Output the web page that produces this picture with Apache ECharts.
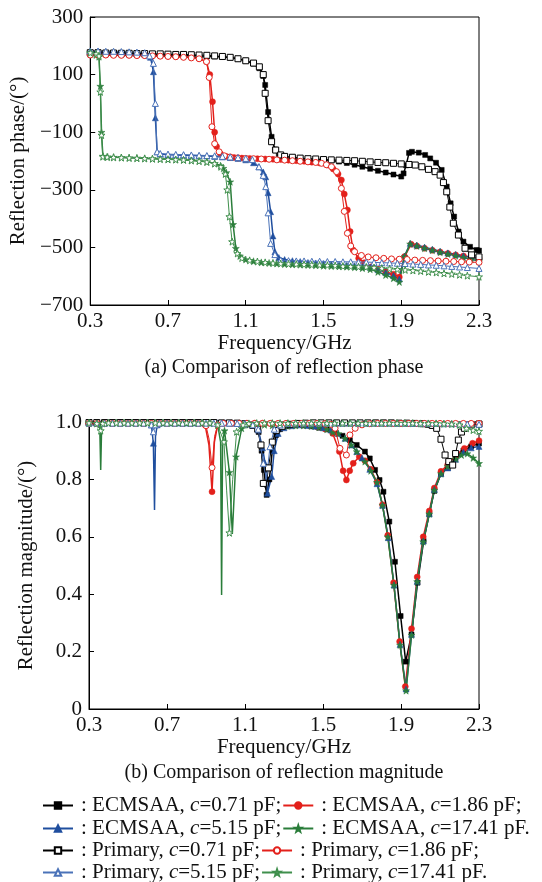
<!DOCTYPE html>
<html><head><meta charset="utf-8">
<script src="https://cdn.jsdelivr.net/npm/echarts@6/dist/echarts.min.js"></script>
<style>html,body{margin:0;padding:0;background:#fff}#c{width:542px;height:882px}</style>
</head><body><div id="c"></div>
<script>
// ---------- DATA ----------
const xTicks = [0.3, 0.7, 1.1, 1.5, 1.9, 2.3];
const phaseTicks = [-700, -500, -300, -100, 100, 300];
const magTicks = [0, 0.2, 0.4, 0.6, 0.8, 1.0];
const seriesNames = ['ECMSAA, c=0.71 pF','ECMSAA, c=1.86 pF','ECMSAA, c=5.15 pF','ECMSAA, c=17.41 pF',
                     'Primary, c=0.71 pF','Primary, c=1.86 pF','Primary, c=5.15 pF','Primary, c=17.41 pF'];

// Reflection phase [GHz, deg]
const phaseE071 = [[0.30,172],[0.34,172],[0.38,171],[0.42,171],[0.46,170],[0.50,170],[0.54,170],[0.58,169],[0.62,169],[0.66,168],[0.70,168],[0.74,167],[0.78,166],[0.82,166],[0.86,165],[0.90,164],[0.94,163],[0.98,161],[1.02,159],[1.06,155],[1.10,148],[1.14,138],[1.17,122],[1.19,95],[1.20,64],[1.215,-30],[1.233,-116],[1.25,-160],[1.27,-178],[1.30,-186],[1.34,-189],[1.38,-191],[1.42,-194],[1.46,-195],[1.50,-196],[1.54,-198],[1.58,-202],[1.62,-207],[1.66,-213],[1.70,-220],[1.74,-227],[1.78,-234],[1.82,-240],[1.86,-247],[1.90,-254],[1.912,-243],[1.925,-215],[1.94,-172],[1.955,-168],[1.99,-171],[2.023,-179],[2.049,-191],[2.079,-206],[2.108,-231],[2.134,-289],[2.154,-347],[2.172,-393],[2.195,-445],[2.22,-480],[2.254,-498],[2.288,-509],[2.30,-511]];
const phaseE186 = [[0.30,170],[0.34,170],[0.38,169],[0.42,169],[0.46,168],[0.50,168],[0.54,167],[0.58,167],[0.62,166],[0.66,165],[0.70,164],[0.74,163],[0.78,162],[0.82,160],[0.86,156],[0.898,145],[0.915,100],[0.929,6],[0.94,-100],[0.95,-150],[0.97,-175],[1.00,-184],[1.04,-188],[1.08,-190],[1.12,-191],[1.16,-192],[1.20,-193],[1.24,-194],[1.28,-195],[1.32,-197],[1.36,-199],[1.40,-201],[1.44,-204],[1.48,-207],[1.52,-214],[1.55,-228],[1.575,-245],[1.592,-266],[1.607,-315],[1.623,-370],[1.637,-445],[1.652,-509],[1.681,-538],[1.71,-553],[1.746,-567],[1.78,-575],[1.82,-584],[1.86,-593],[1.89,-603],[1.917,-532],[1.951,-489],[1.98,-495],[2.02,-503],[2.06,-510],[2.10,-516],[2.14,-521],[2.18,-526],[2.22,-530],[2.26,-534],[2.30,-538]];
const phaseE515 = [[0.30,180],[0.34,180],[0.38,179],[0.42,178],[0.46,178],[0.50,177],[0.54,176],[0.58,172],[0.61,160],[0.625,110],[0.635,-50],[0.644,-168],[0.66,-176],[0.70,-178],[0.74,-179],[0.78,-180],[0.82,-181],[0.86,-182],[0.90,-183],[0.94,-184],[0.98,-186],[1.02,-188],[1.06,-191],[1.10,-196],[1.14,-206],[1.168,-220],[1.19,-238],[1.203,-255],[1.215,-310],[1.228,-376],[1.24,-460],[1.25,-515],[1.27,-535],[1.30,-542],[1.34,-546],[1.38,-549],[1.42,-552],[1.46,-554],[1.50,-556],[1.54,-558],[1.58,-560],[1.62,-562],[1.66,-564],[1.70,-566],[1.74,-569],[1.78,-577],[1.82,-587],[1.86,-598],[1.89,-610],[1.917,-530],[1.946,-486],[1.98,-492],[2.02,-499],[2.06,-506],[2.10,-513],[2.14,-519],[2.18,-524],[2.22,-529],[2.26,-534],[2.30,-538]];
const phaseE1741 = [[0.30,172],[0.33,168],[0.345,162],[0.352,60],[0.358,-100],[0.365,-183],[0.39,-186],[0.42,-187],[0.46,-188],[0.50,-189],[0.54,-190],[0.58,-191],[0.62,-192],[0.66,-193],[0.70,-194],[0.74,-195],[0.78,-196],[0.82,-198],[0.86,-200],[0.90,-203],[0.94,-208],[0.97,-216],[0.985,-225],[1.00,-240],[1.02,-272],[1.035,-420],[1.049,-503],[1.07,-530],[1.10,-542],[1.14,-548],[1.18,-552],[1.22,-554],[1.26,-556],[1.30,-558],[1.34,-559],[1.38,-560],[1.42,-561],[1.46,-562],[1.50,-564],[1.54,-565],[1.58,-566],[1.62,-567],[1.66,-569],[1.70,-572],[1.74,-576],[1.78,-585],[1.82,-596],[1.86,-607],[1.89,-620],[1.917,-532],[1.946,-488],[1.98,-495],[2.02,-503],[2.06,-510],[2.10,-517],[2.14,-523],[2.18,-529],[2.22,-535],[2.26,-541],[2.30,-547]];
const phaseP071 = [[0.30,176],[0.34,176],[0.38,175],[0.42,175],[0.46,174],[0.50,174],[0.54,173],[0.58,173],[0.62,172],[0.66,172],[0.70,171],[0.74,170],[0.78,170],[0.82,169],[0.86,168],[0.90,167],[0.94,165],[0.98,163],[1.02,160],[1.06,155],[1.10,148],[1.14,140],[1.17,127],[1.19,100],[1.20,35],[1.215,-60],[1.233,-133],[1.254,-162],[1.28,-179],[1.30,-184],[1.34,-187],[1.38,-190],[1.42,-192],[1.46,-193],[1.50,-195],[1.54,-196],[1.58,-197],[1.62,-198],[1.66,-199],[1.70,-201],[1.74,-203],[1.78,-205],[1.82,-206],[1.86,-208],[1.90,-210],[1.94,-212],[1.972,-214],[2.006,-220],[2.04,-229],[2.074,-237],[2.10,-249],[2.117,-275],[2.134,-307],[2.15,-360],[2.168,-416],[2.194,-457],[2.228,-503],[2.262,-526],[2.30,-533]];
const phaseP186 = [[0.30,168],[0.34,168],[0.38,168],[0.42,167],[0.46,167],[0.50,167],[0.54,166],[0.58,166],[0.62,165],[0.66,164],[0.70,163],[0.74,162],[0.78,160],[0.82,158],[0.86,155],[0.898,145],[0.912,90],[0.926,-81],[0.94,-140],[0.963,-168],[0.99,-182],[1.02,-186],[1.06,-189],[1.10,-191],[1.14,-192],[1.18,-193],[1.22,-194],[1.26,-196],[1.30,-197],[1.34,-199],[1.38,-201],[1.42,-203],[1.46,-205],[1.49,-208],[1.515,-213],[1.541,-220],[1.567,-237],[1.592,-295],[1.607,-375],[1.623,-451],[1.64,-495],[1.66,-515],[1.695,-528],[1.73,-533],[1.77,-536],[1.81,-538],[1.85,-540],[1.89,-541],[1.93,-542],[1.97,-544],[2.01,-545],[2.05,-546],[2.09,-547],[2.13,-548],[2.17,-549],[2.21,-550],[2.25,-551],[2.30,-552]];
const phaseP515 = [[0.30,182],[0.34,182],[0.38,181],[0.42,181],[0.46,180],[0.50,179],[0.54,178],[0.58,176],[0.605,165],[0.625,139],[0.635,0],[0.644,-168],[0.66,-174],[0.70,-176],[0.74,-177],[0.78,-178],[0.82,-179],[0.86,-180],[0.90,-181],[0.94,-182],[0.98,-184],[1.02,-186],[1.06,-188],[1.10,-191],[1.134,-195],[1.168,-220],[1.19,-250],[1.203,-289],[1.215,-380],[1.228,-486],[1.25,-525],[1.28,-544],[1.32,-546],[1.36,-547],[1.40,-547],[1.44,-548],[1.48,-548],[1.52,-549],[1.56,-549],[1.60,-550],[1.64,-550],[1.68,-551],[1.72,-551],[1.76,-552],[1.80,-553],[1.84,-554],[1.88,-555],[1.92,-556],[1.96,-558],[2.00,-559],[2.04,-561],[2.08,-562],[2.12,-564],[2.16,-566],[2.20,-568],[2.24,-570],[2.30,-573]];
const phaseP1741 = [[0.30,176],[0.33,172],[0.345,165],[0.352,40],[0.358,-110],[0.365,-185],[0.387,-186],[0.42,-187],[0.46,-188],[0.50,-189],[0.54,-190],[0.58,-191],[0.62,-192],[0.66,-193],[0.70,-194],[0.74,-195],[0.78,-196],[0.82,-198],[0.86,-200],[0.90,-203],[0.94,-209],[0.972,-220],[0.995,-245],[1.005,-300],[1.016,-393],[1.03,-480],[1.057,-521],[1.08,-537],[1.12,-545],[1.16,-549],[1.20,-552],[1.24,-554],[1.28,-556],[1.32,-557],[1.36,-558],[1.40,-559],[1.44,-560],[1.48,-561],[1.52,-562],[1.56,-563],[1.60,-565],[1.64,-566],[1.68,-567],[1.72,-568],[1.76,-570],[1.80,-572],[1.84,-574],[1.88,-576],[1.92,-578],[1.96,-580],[2.00,-582],[2.04,-585],[2.08,-587],[2.12,-590],[2.16,-592],[2.20,-595],[2.24,-598],[2.30,-602]];

// Reflection magnitude [GHz, |S11|]; a third element 0 = point without marker
const magE071 = [[0.30,0.997],[0.34,0.997],[0.38,0.997],[0.42,0.997],[0.46,0.997],[0.50,0.997],[0.54,0.997],[0.58,0.997],[0.62,0.997],[0.66,0.997],[0.70,0.997],[0.74,0.997],[0.78,0.997],[0.82,0.997],[0.86,0.997],[0.90,0.997],[0.94,0.997],[0.98,0.996],[1.02,0.996],[1.06,0.995],[1.10,0.993],[1.14,0.987],[1.17,0.965],[1.185,0.90],[1.197,0.833],[1.211,0.746],[1.225,0.80],[1.24,0.90],[1.26,0.955],[1.28,0.975],[1.32,0.985],[1.36,0.988],[1.40,0.988],[1.44,0.985],[1.48,0.98],[1.52,0.974],[1.56,0.965],[1.60,0.952],[1.638,0.937],[1.673,0.92],[1.715,0.897],[1.74,0.873],[1.767,0.833],[1.79,0.798],[1.81,0.757],[1.84,0.653],[1.869,0.513],[1.898,0.324],[1.924,0.165],[1.954,0.26],[1.985,0.44],[2.016,0.585],[2.045,0.68],[2.071,0.76],[2.105,0.82],[2.14,0.84],[2.18,0.875],[2.22,0.90],[2.26,0.915],[2.30,0.925]];
const magE186 = [[0.30,0.996],[0.34,0.996],[0.38,0.996],[0.42,0.996],[0.46,0.996],[0.50,0.996],[0.54,0.996],[0.58,0.996],[0.62,0.996],[0.66,0.996],[0.70,0.996],[0.74,0.996],[0.78,0.996],[0.82,0.996],[0.86,0.996],[0.895,0.99],[0.915,0.92,0],[0.931,0.757],[0.943,0.93,0],[0.96,0.99],[0.99,0.996],[1.03,0.996],[1.07,0.996],[1.11,0.996],[1.15,0.996],[1.19,0.996],[1.23,0.995],[1.27,0.994],[1.31,0.992],[1.35,0.99],[1.39,0.99],[1.43,0.988],[1.47,0.983],[1.51,0.976],[1.55,0.96],[1.584,0.897],[1.603,0.83],[1.62,0.798],[1.637,0.83],[1.655,0.856],[1.686,0.879],[1.715,0.865],[1.745,0.835],[1.777,0.79],[1.805,0.712],[1.832,0.605],[1.862,0.44],[1.893,0.235],[1.922,0.078],[1.954,0.28],[1.983,0.46],[2.014,0.60],[2.045,0.69],[2.071,0.77],[2.105,0.828],[2.139,0.85],[2.182,0.885],[2.225,0.908],[2.267,0.926],[2.30,0.935]];
const magE515 = [[0.30,0.997],[0.34,0.997],[0.38,0.997],[0.42,0.997],[0.46,0.997],[0.50,0.997],[0.54,0.997],[0.58,0.997],[0.62,0.99],[0.63,0.926],[0.636,0.693,0],[0.641,0.95,0],[0.65,0.99],[0.68,0.997],[0.72,0.997],[0.76,0.997],[0.80,0.997],[0.84,0.997],[0.88,0.997],[0.92,0.997],[0.96,0.997],[1.00,0.997],[1.04,0.996],[1.08,0.995],[1.12,0.993],[1.145,0.988],[1.168,0.972],[1.19,0.91],[1.203,0.856],[1.215,0.752],[1.237,0.81],[1.25,0.90],[1.27,0.96],[1.30,0.98],[1.34,0.987],[1.38,0.99],[1.42,0.988],[1.46,0.985],[1.50,0.98],[1.54,0.972],[1.578,0.96],[1.613,0.943],[1.645,0.92],[1.673,0.897],[1.70,0.875],[1.74,0.835],[1.777,0.785],[1.805,0.71],[1.835,0.597],[1.864,0.432],[1.895,0.225],[1.926,0.07],[1.954,0.26],[1.983,0.445],[2.014,0.585],[2.045,0.68],[2.071,0.765],[2.105,0.82],[2.14,0.84],[2.18,0.87],[2.22,0.895],[2.26,0.91],[2.30,0.915]];
const magE1741 = [[0.30,0.997],[0.34,0.997],[0.355,0.99],[0.36,0.833,0],[0.365,0.99,0],[0.38,0.997],[0.42,0.997],[0.46,0.997],[0.50,0.997],[0.54,0.997],[0.58,0.997],[0.62,0.997],[0.66,0.997],[0.70,0.997],[0.74,0.997],[0.78,0.997],[0.82,0.997],[0.86,0.997],[0.90,0.997],[0.94,0.996],[0.96,0.99],[0.975,0.93,0],[0.98,0.397,0],[0.985,0.93,0],[0.995,0.97],[1.02,0.825],[1.035,0.61,0],[1.054,0.879],[1.083,0.978],[1.12,0.99],[1.16,0.992],[1.20,0.99],[1.24,0.988],[1.28,0.987],[1.32,0.987],[1.36,0.988],[1.40,0.988],[1.44,0.986],[1.48,0.982],[1.52,0.975],[1.55,0.965],[1.578,0.96],[1.613,0.943],[1.645,0.92],[1.673,0.897],[1.715,0.862],[1.745,0.83],[1.777,0.79],[1.805,0.71],[1.832,0.60],[1.864,0.432],[1.895,0.223],[1.926,0.064],[1.954,0.258],[1.983,0.444],[2.014,0.583],[2.045,0.68],[2.071,0.763],[2.105,0.82],[2.14,0.845],[2.18,0.872],[2.21,0.885],[2.24,0.89],[2.27,0.875],[2.30,0.856]];
const magP071 = [[0.30,0.998],[0.34,0.998],[0.38,0.998],[0.42,0.998],[0.46,0.998],[0.50,0.998],[0.54,0.998],[0.58,0.998],[0.62,0.998],[0.66,0.998],[0.70,0.998],[0.74,0.998],[0.78,0.998],[0.82,0.998],[0.86,0.998],[0.90,0.998],[0.94,0.998],[0.98,0.997],[1.02,0.997],[1.06,0.996],[1.10,0.994],[1.14,0.988],[1.165,0.975],[1.182,0.92],[1.194,0.786],[1.207,0.765,0],[1.22,0.84],[1.24,0.93],[1.26,0.97],[1.29,0.985],[1.33,0.992],[1.37,0.995],[1.41,0.996],[1.45,0.997],[1.49,0.997],[1.53,0.997],[1.57,0.997],[1.61,0.997],[1.65,0.997],[1.69,0.997],[1.73,0.997],[1.77,0.997],[1.81,0.997],[1.85,0.997],[1.89,0.996],[1.93,0.996],[1.97,0.995],[2.01,0.994],[2.04,0.992],[2.06,0.988],[2.083,0.978],[2.105,0.94],[2.126,0.885],[2.145,0.862],[2.165,0.85],[2.18,0.89],[2.194,0.937],[2.21,0.965],[2.225,0.978],[2.26,0.99],[2.30,0.993]];
const magP186 = [[0.30,0.995],[0.34,0.995],[0.38,0.995],[0.42,0.995],[0.46,0.995],[0.50,0.995],[0.54,0.995],[0.58,0.995],[0.62,0.995],[0.66,0.995],[0.70,0.995],[0.74,0.995],[0.78,0.995],[0.82,0.995],[0.86,0.995],[0.90,0.987],[0.916,0.94,0],[0.931,0.841],[0.944,0.95,0],[0.96,0.99],[0.99,0.995],[1.03,0.995],[1.07,0.995],[1.11,0.995],[1.15,0.995],[1.19,0.995],[1.23,0.995],[1.27,0.995],[1.31,0.995],[1.35,0.995],[1.39,0.995],[1.43,0.995],[1.47,0.995],[1.51,0.994],[1.54,0.992],[1.562,0.978],[1.587,0.908],[1.62,0.885],[1.638,0.955],[1.665,0.978],[1.70,0.99],[1.74,0.994],[1.78,0.995],[1.82,0.995],[1.86,0.995],[1.90,0.995],[1.94,0.995],[1.98,0.995],[2.02,0.995],[2.06,0.995],[2.10,0.995],[2.14,0.995],[2.18,0.995],[2.22,0.995],[2.26,0.995],[2.30,0.995]];
const magP515 = [[0.30,0.996],[0.34,0.996],[0.38,0.996],[0.42,0.996],[0.46,0.996],[0.50,0.996],[0.54,0.996],[0.58,0.996],[0.62,0.99],[0.63,0.966],[0.64,0.99],[0.66,0.996],[0.70,0.996],[0.74,0.996],[0.78,0.996],[0.82,0.996],[0.86,0.996],[0.90,0.996],[0.94,0.996],[0.98,0.996],[1.02,0.996],[1.06,0.995],[1.10,0.994],[1.14,0.99],[1.168,0.975],[1.194,0.856],[1.21,0.80,0],[1.228,0.914],[1.25,0.975],[1.28,0.99],[1.32,0.995],[1.36,0.996],[1.40,0.996],[1.44,0.996],[1.48,0.996],[1.52,0.996],[1.56,0.996],[1.60,0.996],[1.64,0.996],[1.68,0.996],[1.72,0.996],[1.76,0.996],[1.80,0.996],[1.84,0.996],[1.88,0.996],[1.92,0.996],[1.96,0.995],[2.00,0.995],[2.04,0.995],[2.08,0.995],[2.12,0.994],[2.16,0.994],[2.20,0.993],[2.24,0.993],[2.30,0.992]];
const magP1741 = [[0.30,0.997],[0.34,0.995],[0.36,0.97],[0.37,0.995],[0.40,0.997],[0.44,0.997],[0.48,0.997],[0.52,0.997],[0.56,0.997],[0.60,0.997],[0.64,0.997],[0.68,0.997],[0.72,0.997],[0.76,0.997],[0.80,0.997],[0.84,0.997],[0.88,0.997],[0.92,0.997],[0.96,0.99],[0.992,0.931],[1.006,0.76,0],[1.02,0.614],[1.037,0.80,0],[1.057,0.966],[1.09,0.99],[1.12,0.995],[1.16,0.996],[1.20,0.996],[1.24,0.996],[1.28,0.996],[1.32,0.996],[1.36,0.996],[1.40,0.996],[1.44,0.996],[1.48,0.996],[1.52,0.996],[1.56,0.996],[1.60,0.996],[1.64,0.996],[1.68,0.996],[1.72,0.996],[1.76,0.996],[1.80,0.996],[1.84,0.996],[1.88,0.996],[1.92,0.996],[1.96,0.996],[2.00,0.995],[2.04,0.995],[2.08,0.995],[2.12,0.994],[2.16,0.993],[2.20,0.99],[2.236,0.978],[2.27,0.972],[2.30,0.968]];

// ---------- STYLE ----------
const F = 'Liberation Serif';
const STAR = 'path://M50,0 L61.8,35.3 L98.1,34.5 L69.1,56.5 L79.4,90.5 L50,70 L20.6,90.5 L30.9,56.5 L1.9,34.5 L38.2,35.3 Z';
const COL = {k:'#000000', r:'#e3201b', b:'#1f4e9e', bp:'#4a72b8', g:'#2a7d3a', gp:'#3f8f4c'};

function toData(arr){
  return arr.map(p => p.length > 2 ? {value:[p[0],p[1]], symbol:'none'} : [p[0],p[1]]);
}
function mk(name, arr, gi, sym, size, color, open){
  return {
    name, type:'line', xAxisIndex:gi, yAxisIndex:gi, data:toData(arr),
    symbol:sym, symbolSize:size, showAllSymbol:true, smooth:false,
    lineStyle:{color, width: open ? 1 : 1.5},
    itemStyle: open ? {color:'#ffffff', borderColor:color, borderWidth:1} : {color, borderColor:color, borderWidth:0.5},
    emphasis:{disabled:true}, z: open ? 3 : 2, animation:false
  };
}
const specs = [
  [seriesNames[0], phaseE071, magE071, 'rect', 5, COL.k, false],
  [seriesNames[1], phaseE186, magE186, 'circle', 6, COL.r, false],
  [seriesNames[2], phaseE515, magE515, 'triangle', 6, COL.b, false],
  [seriesNames[3], phaseE1741, magE1741, STAR, 7, COL.g, false],
  [seriesNames[4], phaseP071, magP071, 'rect', 6, COL.k, true],
  [seriesNames[5], phaseP186, magP186, 'circle', 6, COL.r, true],
  [seriesNames[6], phaseP515, magP515, 'triangle', 6, COL.bp, true],
  [seriesNames[7], phaseP1741, magP1741, STAR, 7, COL.gp, true]
];
const series = [];
specs.forEach(s => { series.push(mk(s[0], s[1], 0, s[3], s[4], s[5], s[6])); });
specs.forEach(s => { series.push(mk(s[0], s[2], 1, s[3], s[4], s[5], s[6])); });

const txt = {fontFamily:F, fontSize:21, color:'#111'};
function xAx(gi, gap){
  return {gridIndex:gi, type:'value', min:xTicks[0], max:xTicks[xTicks.length-1], interval:0.4,
    axisLine:{onZero:false, lineStyle:{color:'#000', width:1}},
    axisTick:{inside:true, length:5, lineStyle:{color:'#000'}},
    axisLabel:Object.assign({margin:6, formatter:v=>v.toFixed(1)}, txt),
    splitLine:{show:false},
    name:'Frequency/GHz', nameLocation:'middle', nameGap:gap, nameTextStyle:txt};
}
function yAx(gi, ticks, name, fmt){
  return {gridIndex:gi, type:'value', min:ticks[0], max:ticks[ticks.length-1], interval:ticks[1]-ticks[0],
    axisLine:{onZero:false, lineStyle:{color:'#000', width:1}},
    axisTick:{inside:true, length:5, lineStyle:{color:'#000'}},
    axisLabel:Object.assign({margin:7, formatter:fmt}, txt),
    splitLine:{show:false},
    name, nameLocation:'middle', nameGap:52, nameTextStyle:txt};
}

const legendRows = [[seriesNames[0],seriesNames[1]],[seriesNames[2],seriesNames[3]],[seriesNames[4],seriesNames[5]],[seriesNames[6],seriesNames[7]]];
const legendTops = [795, 818, 840, 862];
const legends = legendRows.map((row,i)=>({
  data:row, left:42, top:legendTops[i], orient:'horizontal', itemGap:1, itemWidth:30, itemHeight:8,
  selectedMode:false, padding:0,
  formatter: n => ': ' + n.replace('c=', '{i|c}=') + (n.indexOf('17.41')>=0 ? '.' : ';'),
  textStyle:{fontFamily:F, fontSize:21, color:'#111', padding:[0,0,0,3], rich:{i:{fontFamily:F, fontSize:21, fontStyle:'italic', color:'#111'}}}
}));

const option = {
  animation:false,
  backgroundColor:'#fff',
  grid:[
    {left:89, top:17, width:390, height:288, show:true, borderColor:'#000', borderWidth:1, backgroundColor:'transparent'},
    {left:89, top:422, width:390, height:287, show:true, borderColor:'#000', borderWidth:1, backgroundColor:'transparent'}
  ],
  xAxis:[xAx(0, 26), xAx(1, 28)],
  yAxis:[yAx(0, phaseTicks, 'Reflection phase/(°)', v=>String(v).replace('-', '\u2212')),
         yAx(1, magTicks, 'Reflection magnitude/(°)', v=> v===0 ? '0' : v.toFixed(1))],
  legend:legends,
  graphic:[
    {type:'text', x:284, y:368, style:{text:'(a) Comparison of reflection phase', font:'20px "Liberation Serif"', fill:'#111', textAlign:'center', textVerticalAlign:'middle'}},
    {type:'text', x:284, y:773, style:{text:'(b) Comparison of reflection magnitude', font:'20px "Liberation Serif"', fill:'#111', textAlign:'center', textVerticalAlign:'middle'}}
  ],
  series
};
const chart = echarts.init(document.getElementById('c'), null, {renderer:'canvas'});
chart.setOption(option);
</script></body></html>
